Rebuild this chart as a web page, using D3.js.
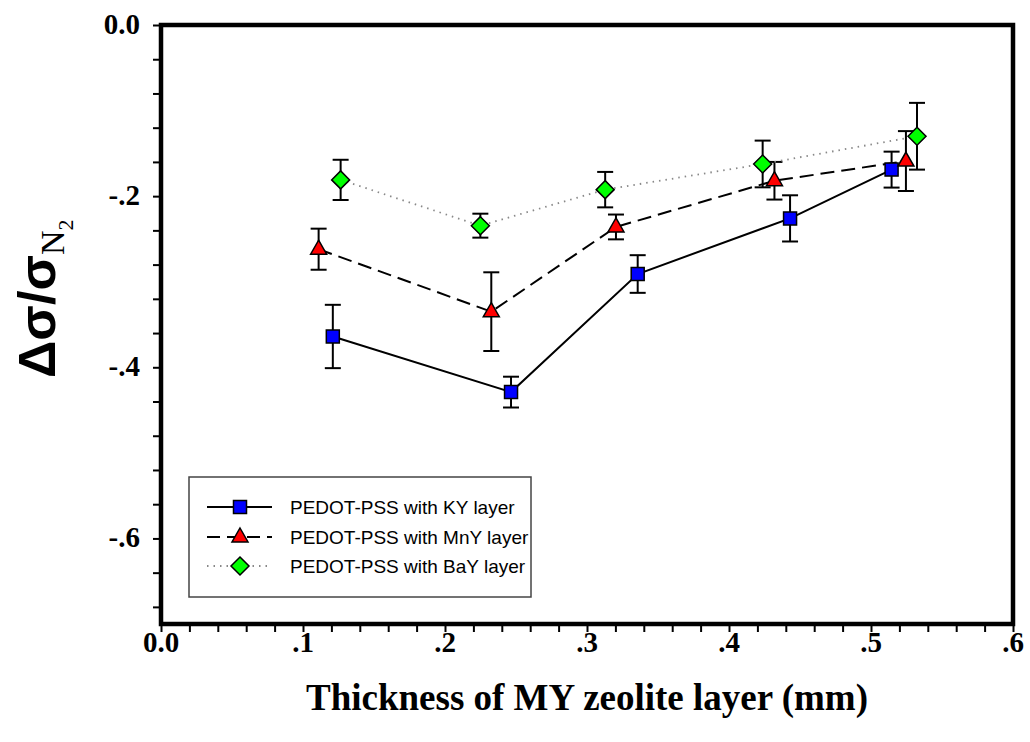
<!DOCTYPE html>
<html>
<head>
<meta charset="utf-8">
<script src="https://d3js.org/d3.v7.min.js"></script>
<style>
  html, body { margin: 0; padding: 0; background: #fff; }
  svg { display: block; }
</style>
</head>
<body>
<svg id="chart" width="1030" height="742"></svg>
<script>
// ---- data ----
const seriesNames = ["PEDOT-PSS with KY layer", "PEDOT-PSS with MnY layer", "PEDOT-PSS with BaY layer"];
const kyX   = [0.121, 0.2465, 0.3357, 0.443, 0.5145];
const kyY   = [-0.364, -0.429, -0.291, -0.226, -0.169];
const kyErr = [0.037, 0.018, 0.022, 0.027, 0.021];
const mnX   = [0.111, 0.2326, 0.3204, 0.432, 0.5246];
const mnY   = [-0.262, -0.335, -0.236, -0.182, -0.159];
const mnErr = [0.024, 0.046, 0.0145, 0.022, 0.035];
const baX   = [0.1265, 0.2249, 0.3128, 0.4237, 0.5324];
const baY   = [-0.181, -0.2345, -0.1924, -0.1624, -0.130];
const baErr = [0.0235, 0.014, 0.0207, 0.0273, 0.039];
const xTickValues = [0, 0.1, 0.2, 0.3, 0.4, 0.5, 0.6];
const xTickLabels = ["0.0", ".1", ".2", ".3", ".4", ".5", ".6"];
const yTickValues = [0, -0.2, -0.4, -0.6];
const yTickLabels = ["0.0", "-.2", "-.4", "-.6"];
const xTitle = "Thickness of MY zeolite layer (mm)";

(function () {
// ---- layout ----
const svg = d3.select("#chart");
const pL = 161, pR = 1013, pT = 25, pB = 624;
const x = d3.scaleLinear().domain([0, 0.6]).range([pL, pR]);
const y = d3.scaleLinear().domain([-0.7, 0]).range([pB, pT]);

const serifBold = "'Liberation Serif', 'Times New Roman', serif";
const sans = "'Liberation Sans', Arial, sans-serif";

// minor + major ticks (outward)
const xMinor = d3.range(0, 0.6001, 0.02);
const yMinor = d3.range(0, -0.7, -0.04);

const xAxis = d3.axisBottom(x).tickValues(xMinor).tickSize(8).tickFormat("");
const gx = svg.append("g").attr("transform", `translate(0,${pB})`).call(xAxis);
gx.select(".domain").remove();
gx.selectAll(".tick line").attr("stroke", "#000").attr("stroke-width", 2);

const yAxis = d3.axisLeft(y).tickValues(yMinor).tickSize(8).tickFormat("");
const gy = svg.append("g").attr("transform", `translate(${pL},0)`).call(yAxis);
gy.select(".domain").remove();
gy.selectAll(".tick line").attr("stroke", "#000").attr("stroke-width", 2);

// tick labels
svg.append("g").selectAll("text").data(xTickValues).join("text")
  .attr("x", d => x(d)).attr("y", 652)
  .attr("text-anchor", "middle")
  .attr("font-family", serifBold).attr("font-weight", "bold").attr("font-size", 29)
  .text((d, i) => xTickLabels[i]);

svg.append("g").selectAll("text").data(yTickValues).join("text")
  .attr("x", 140).attr("y", d => y(d) + 9)
  .attr("text-anchor", "end")
  .attr("font-family", serifBold).attr("font-weight", "bold").attr("font-size", 29)
  .text((d, i) => yTickLabels[i]);

// axis titles
svg.append("text")
  .attr("x", (pL + pR) / 2).attr("y", 710)
  .attr("text-anchor", "middle")
  .attr("font-family", serifBold).attr("font-weight", "bold").attr("font-size", 37)
  .text(xTitle);

const yt = svg.append("text")
  .attr("transform", "translate(55,378) rotate(-90)")
  .attr("text-anchor", "start");
yt.append("tspan").attr("font-family", sans).attr("font-weight", "bold").attr("font-size", 52).text("Δσ/σ");
yt.append("tspan").attr("font-family", "'Liberation Serif', serif").attr("font-size", 34).attr("dy", 9).text("N");
yt.append("tspan").attr("font-family", "'Liberation Serif', serif").attr("font-size", 22).attr("dy", 9).text("2");

// ---- series ----
const series = [
  { name: seriesNames[0], xs: kyX, ys: kyY, es: kyErr, color: "#0000ff", shape: "square", dash: null, lineColor: "#000", lw: 2 },
  { name: seriesNames[1], xs: mnX, ys: mnY, es: mnErr, color: "#ff0000", shape: "triangle", dash: "14,7", lineColor: "#000", lw: 2 },
  { name: seriesNames[2], xs: baX, ys: baY, es: baErr, color: "#00ff00", shape: "diamond", dash: "1.5,5", lineColor: "#888", lw: 1.8 }
];

function markerPath(shape) {
  if (shape === "square") return "M-6.5,-6.5H6.5V6.5H-6.5Z";
  if (shape === "triangle") return "M0,-9L8,5L-8,5Z";
  return "M0,-9L9,0L0,9L-9,0Z";
}

const line = d3.line().x(d => x(d[0])).y(d => y(d[1]));

series.forEach(s => {
  const pts = s.xs.map((v, i) => [v, s.ys[i], s.es[i]]);
  const g = svg.append("g");
  g.append("path").datum(pts).attr("d", line)
    .attr("fill", "none").attr("stroke", s.lineColor).attr("stroke-width", s.lw)
    .attr("stroke-dasharray", s.dash);
  const eb = g.selectAll(".eb").data(pts).join("g");
  eb.append("line").attr("x1", d => x(d[0])).attr("x2", d => x(d[0]))
    .attr("y1", d => y(d[1] + d[2])).attr("y2", d => y(d[1] - d[2]))
    .attr("stroke", "#000").attr("stroke-width", 2);
  eb.append("line").attr("x1", d => x(d[0]) - 8).attr("x2", d => x(d[0]) + 8)
    .attr("y1", d => y(d[1] + d[2])).attr("y2", d => y(d[1] + d[2]))
    .attr("stroke", "#000").attr("stroke-width", 2);
  eb.append("line").attr("x1", d => x(d[0]) - 8).attr("x2", d => x(d[0]) + 8)
    .attr("y1", d => y(d[1] - d[2])).attr("y2", d => y(d[1] - d[2]))
    .attr("stroke", "#000").attr("stroke-width", 2);
});
series.forEach(s => {
  const pts = s.xs.map((v, i) => [v, s.ys[i]]);
  svg.append("g").selectAll("path").data(pts).join("path")
    .attr("transform", d => `translate(${x(d[0])},${y(d[1])})`)
    .attr("d", markerPath(s.shape))
    .attr("fill", s.color).attr("stroke", "#000").attr("stroke-width", 1.5);
});

// ---- legend ----
const lg = svg.append("g");
lg.append("rect").attr("x", 189).attr("y", 477).attr("width", 342).attr("height", 120)
  .attr("fill", "#fff").attr("stroke", "#444").attr("stroke-width", 1.5);
const rowY = [507, 537, 566];
series.forEach((s, i) => {
  lg.append("line").attr("x1", 207).attr("x2", 272).attr("y1", rowY[i]).attr("y2", rowY[i])
    .attr("stroke", s.lineColor).attr("stroke-width", s.lw).attr("stroke-dasharray", s.dash === "14,7" ? "13,7" : s.dash);
  lg.append("path").attr("transform", `translate(240,${rowY[i]})`).attr("d", markerPath(s.shape))
    .attr("fill", s.color).attr("stroke", "#000").attr("stroke-width", 1.5);
  lg.append("text").attr("x", 290).attr("y", rowY[i] + 7)
    .attr("font-family", sans).attr("font-size", 19).text(s.name);
});

// ---- frame ----
svg.append("rect").attr("x", pL).attr("y", pT).attr("width", pR - pL).attr("height", pB - pT)
  .attr("fill", "none").attr("stroke", "#000").attr("stroke-width", 4.5);
})();
</script>
</body>
</html>
